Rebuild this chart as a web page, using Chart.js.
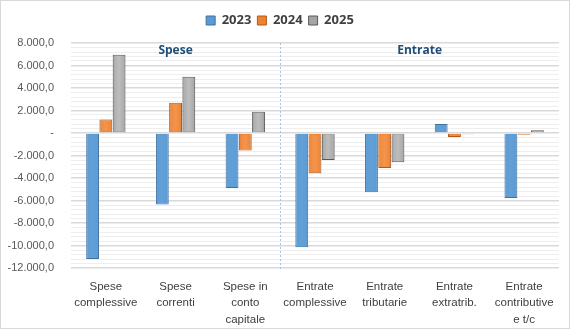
<!DOCTYPE html>
<html lang="it">
<head>
    <meta charset="UTF-8">
    <script src="https://cdn.jsdelivr.net/npm/chart.js@4.4.0/dist/chart.umd.min.js"></script>
    <title>Spese ed Entrate</title>
    <style>
        html, body { margin: 0; padding: 0; background: #fff; }
        #box { position: absolute; left: 0; top: 0; width: 568px; height: 327px; border: 1px solid #d9d9d9; }
    </style>
</head>
<body>
    <div id="box"><canvas id="myChart" width="568" height="327"></canvas></div>
    <script>
    var categories = [
        ['Spese', 'complessive'],
        ['Spese', 'correnti'],
        ['Spese in', 'conto', 'capitale'],
        ['Entrate', 'complessive'],
        ['Entrate', 'tributarie'],
        ['Entrate', 'extratrib.'],
        ['Entrate', 'contributive', 'e t/c']
    ];
    var years = ['2023', '2024', '2025'];
    var v2023 = [-11200, -6350, -4880, -10150, -5270, 800, -5780];
    var v2024 = [1200, 2680, -1560, -3580, -3100, -350, -150];
    var v2025 = [6950, 5000, 1900, -2400, -2600, -100, 250];
    var groups = ['Spese', 'Entrate'];

    function fmt(v) {
        if (v === 0) return '-';
        var s = Math.abs(v).toFixed(1).split('.');
        var int = s[0].replace(/\B(?=(\d{3})+(?!\d))/g, '.');
        return (v < 0 ? '-' : '') + int + ',' + s[1];
    }

    // extra gap under the legend
    var legendGap = {
        id: 'legendGap',
        beforeInit: function(chart) {
            var fit = chart.legend.fit;
            chart.legend.fit = function() {
                fit.bind(chart.legend)();
                this.height += 6;
            };
        }
    };

    // separator line + group titles
    var groupPlugin = {
        id: 'groups',
        beforeDatasetsDraw: function(chart) {
            var c = chart.ctx, a = chart.chartArea, xs = chart.scales.x;
            var sep = (xs.getPixelForValue(2) + xs.getPixelForValue(3)) / 2;
            c.save();
            c.strokeStyle = '#9dc3e6';
            c.lineWidth = 1;
            c.setLineDash([2, 2]);
            c.beginPath();
            c.moveTo(Math.round(sep) + 0.5, a.top);
            c.lineTo(Math.round(sep) + 0.5, a.bottom + 3);
            c.stroke();
            c.setLineDash([]);
            c.fillStyle = '#1f4e79';
            c.font = 'bold 12px "Open Sans"';
            c.textAlign = 'center';
            c.textBaseline = 'middle';
            c.fillText(groups[0], (a.left + sep) / 2, a.top + 8);
            c.fillText(groups[1], (sep + a.right) / 2, a.top + 8);
            c.restore();
        }
    };

    // simple bevel shading on each bar
    var bevelPlugin = {
        id: 'bevel',
        afterDatasetsDraw: function(chart) {
            var c = chart.ctx;
            var strength = [0.08, 0.25, 0.45];
            chart.data.datasets.forEach(function(ds, i) {
                var meta = chart.getDatasetMeta(i);
                var k = strength[i];
                meta.data.forEach(function(bar) {
                    var left = bar.x - bar.width / 2;
                    var top = Math.min(bar.y, bar.base);
                    var h = Math.abs(bar.base - bar.y);
                    if (h < 2) return;
                    var g = c.createLinearGradient(left, 0, left + bar.width, 0);
                    g.addColorStop(0, 'rgba(0,0,0,' + k + ')');
                    g.addColorStop(0.18, 'rgba(255,255,255,' + k * 0.3 + ')');
                    g.addColorStop(0.5, 'rgba(255,255,255,' + k * 0.6 + ')');
                    g.addColorStop(0.82, 'rgba(255,255,255,' + k * 0.2 + ')');
                    g.addColorStop(1, 'rgba(0,0,0,' + k * 1.2 + ')');
                    c.save();
                    c.fillStyle = g;
                    c.fillRect(left + 1, top + 1, bar.width - 2, h - 2);
                    c.restore();
                });
            });
        }
    };

    var ctx = document.getElementById('myChart');
    new Chart(ctx, {
        type: 'bar',
        data: {
            labels: categories,
            datasets: [{
                label: years[0],
                data: v2023,
                backgroundColor: '#5b9bd5',
                borderColor: '#41719c',
                borderWidth: 1
            }, {
                label: years[1],
                data: v2024,
                backgroundColor: '#f0822f',
                borderColor: '#ae5a21',
                borderWidth: 1
            }, {
                label: years[2],
                data: v2025,
                backgroundColor: '#a5a5a5',
                borderColor: '#595959',
                borderWidth: 1
            }]
        },
        options: {
            responsive: false,
            animation: false,
            barPercentage: 0.97,
            categoryPercentage: 0.57,
            layout: { padding: { top: 7, right: 10, bottom: 0, left: 0 } },
            plugins: {
                tooltip: { enabled: false },
                legend: {
                    position: 'top',
                    labels: {
                        boxWidth: 9,
                        boxHeight: 9,
                        padding: 6,
                        color: '#404040',
                        font: { family: '"Open Sans"', size: 13, weight: 'bold' }
                    }
                }
            },
            scales: {
                x: {
                    grid: { display: false, drawTicks: false },
                    border: { display: false },
                    ticks: {
                        color: '#404040',
                        padding: 10,
                        maxRotation: 0,
                        autoSkip: false,
                        font: { family: '"Liberation Sans"', size: 11.5, lineHeight: 1.45 }
                    },
                    afterFit: function(s) { s.height = 60; }
                },
                y: {
                    min: -12000,
                    max: 8000,
                    border: { display: false },
                    grid: {
                        drawTicks: false,
                        color: function(c) { return c.tick && c.tick.value % 2000 === 0 ? '#d9d9d9' : '#eeeeee'; },
                        lineWidth: function(c) { return c.tick && c.tick.value % 2000 === 0 ? 1.5 : 1; }
                    },
                    ticks: {
                        stepSize: 400,
                        autoSkip: false,
                        padding: 17,
                        color: '#595959',
                        font: { family: '"Liberation Sans"', size: 11 },
                        callback: function(v) { return v % 2000 === 0 ? fmt(v) : ''; }
                    },
                    afterFit: function(s) { s.width = 70; }
                }
            }
        },
        plugins: [legendGap, groupPlugin, bevelPlugin]
    });
    </script>
</body>
</html>
